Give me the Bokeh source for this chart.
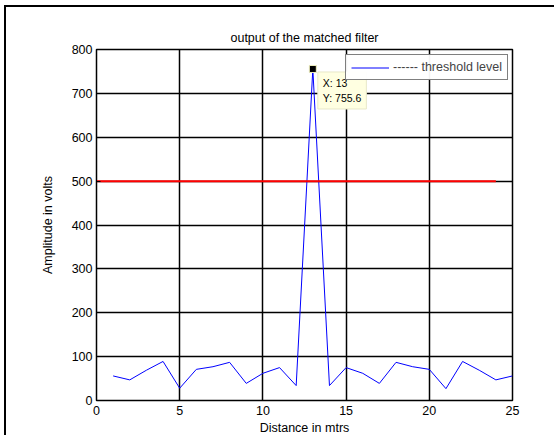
from bokeh.plotting import figure
from bokeh.models import Range1d, Legend, LegendItem, Label, FixedTicker
from bokeh.embed import file_html
from bokeh.resources import INLINE

distance = list(range(1, 26))
amplitude = [56, 47, 69, 89, 28, 71, 77, 87, 39, 62, 75, 34, 755.6,
             34, 75, 62, 39, 87, 77, 71, 27, 89, 69, 47, 56]
thr_x = list(range(0, 25))
thr_y = [500] * 25
peak_x = [13]
peak_y = [755.6]
x_ticks = [0, 5, 10, 15, 20, 25]
y_ticks = [0, 100, 200, 300, 400, 500, 600, 700, 800]

FONT = "Liberation Sans"
FS = "12.5px"

p = figure(width=550, height=430, output_backend="svg", toolbar_location=None,
           x_range=Range1d(0, 25), y_range=Range1d(0, 800),
           min_border_left=90, min_border_right=44, min_border_top=42, min_border_bottom=37,
           title="output of the matched filter")
p.styles = {"box-shadow": "-2px -2px 0px 0px black",
            "margin-left": "6px", "margin-top": "7px"}

p.title.align = "center"
p.title.text_font = FONT
p.title.text_font_size = FS
p.title.text_font_style = "normal"
p.title.text_color = "black"
p.title.offset = -3

p.outline_line_color = "black"
p.outline_line_width = 1.5
p.background_fill_color = "white"
p.border_fill_color = "white"

p.xaxis.ticker = FixedTicker(ticks=x_ticks)
p.yaxis.ticker = FixedTicker(ticks=y_ticks)
for ax in (p.xaxis[0], p.yaxis[0]):
    ax.axis_line_color = "black"
    ax.major_tick_in = 4
    ax.major_tick_out = 0
    ax.minor_tick_line_color = None
    ax.major_label_text_font = FONT
    ax.major_label_text_font_size = FS
    ax.major_label_text_color = "black"
    ax.axis_label_text_font = FONT
    ax.axis_label_text_font_size = FS
    ax.axis_label_text_font_style = "normal"
    ax.axis_label_text_color = "black"
p.xaxis.axis_label = "Distance in mtrs"
p.yaxis.axis_label = "Amplitude in volts"
p.xaxis.major_label_standoff = 5
p.yaxis.major_label_standoff = 4
p.xaxis.axis_label_standoff = 3
p.yaxis.axis_label_standoff = 14

p.xgrid.grid_line_color = "black"
p.ygrid.grid_line_color = "black"
p.xgrid.grid_line_width = 1.5
p.ygrid.grid_line_width = 1.5

sig = p.line(distance, amplitude, line_color="#0000ff", line_width=1)
p.line(thr_x, thr_y, line_color="#ff0000", line_width=2)
p.scatter(peak_x, peak_y, marker="square", size=7, fill_color="black",
          line_color="#f0f0c0", line_width=1)

tip = Label(x=13, y=755.6, x_offset=5, y_offset=-40, text="X: 13\nY: 755.6",
            text_font=FONT, text_font_size="10.5px", text_color="black",
            text_line_height=1.25,
            background_fill_color="#ffffe1", border_line_color="#e8e8c8",
            padding=5)
p.add_layout(tip)

legend = Legend(items=[LegendItem(label="------ threshold level", renderers=[sig])],
                location=(249, 320), glyph_width=38, glyph_height=13,
                label_text_font=FONT, label_text_font_size=FS,
                border_line_color="black", border_line_width=1,
                padding=5, spacing=0, margin=0, label_standoff=4)
p.add_layout(legend)

open("out.html", "w").write(file_html(p, INLINE))
